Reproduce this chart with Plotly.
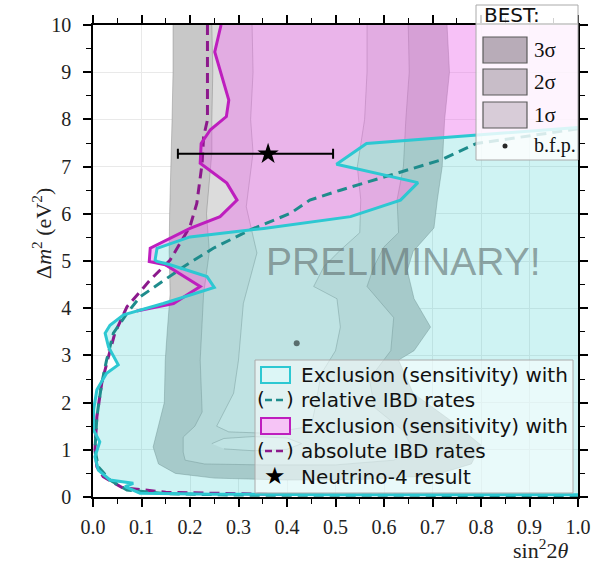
import plotly.graph_objects as go

# ---------------- data ----------------
# Neutrino-4 allowed contours (sin^2 2theta, dm^2)
c3_x = [0.165, 0.165, 0.163, 0.160, 0.158, 0.157, 0.159, 0.153, 0.149, 0.147, 0.135, 0.124, 0.135, 0.170,
        0.25, 0.40, 0.55, 0.70,
        0.78, 0.80, 0.74, 0.66, 0.63, 0.662, 0.696, 0.662, 0.648, 0.66, 0.703, 0.71, 0.72, 0.725, 0.735, 0.73]
c3_y = [10.0, 9.0, 8.0, 7.0, 6.0, 5.2, 4.3, 3.5, 2.9, 2.0, 1.5, 1.06, 0.70, 0.50,
        0.40, 0.36, 0.37, 0.45,
        0.70, 1.10, 1.60, 2.20, 2.90, 3.10, 3.60, 4.20, 4.80, 5.20, 5.70, 6.30, 7.00, 8.00, 9.00, 10.0]

c2_x = [0.245, 0.247, 0.245, 0.245, 0.234, 0.240, 0.228, 0.221, 0.225, 0.210, 0.186, 0.186, 0.190, 0.230,
        0.35, 0.50, 0.62,
        0.66, 0.64, 0.58, 0.57, 0.614, 0.62, 0.565, 0.579, 0.60, 0.63, 0.627, 0.64, 0.645, 0.652, 0.65]
c2_y = [10.0, 9.0, 8.0, 7.3, 6.0, 5.2, 4.3, 2.9, 1.8, 1.5, 1.27, 0.95, 0.78, 0.70,
        0.68, 0.68, 0.78,
        1.00, 1.40, 1.90, 2.50, 3.10, 3.80, 4.46, 4.88, 5.30, 5.60, 6.30, 7.00, 8.00, 9.00, 10.0]

c1_x = [0.328, 0.330, 0.325, 0.330, 0.316, 0.338, 0.310, 0.300, 0.290, 0.255,
        0.28, 0.36, 0.45,
        0.46, 0.47, 0.50, 0.51, 0.503, 0.455, 0.476, 0.51, 0.55, 0.552, 0.545, 0.56, 0.565, 0.565]
c1_y = [10.0, 9.0, 8.0, 7.3, 6.15, 5.17, 4.10, 2.90, 2.20, 1.50,
        1.38, 1.35, 1.50,
        2.00, 2.60, 3.10, 3.60, 4.20, 4.46, 4.88, 5.23, 5.60, 6.30, 7.00, 8.00, 9.00, 10.0]

isl_x = [0.245, 0.27, 0.33, 0.40, 0.43, 0.40, 0.33, 0.27]
isl_y = [1.13, 1.24, 1.28, 1.25, 1.13, 1.01, 0.98, 1.02]

# exclusion boundary, absolute IBD rates (solid magenta)
mag_x = [0.264, 0.251, 0.280, 0.275, 0.242, 0.223, 0.221, 0.276, 0.297, 0.262, 0.200, 0.152, 0.118, 0.116,
         0.149, 0.221, 0.166, 0.090]
mag_y = [10.0, 9.43, 8.41, 8.06, 7.78, 7.49, 7.07, 6.65, 6.29, 5.94, 5.69, 5.44, 5.27, 4.99,
         4.92, 4.46, 4.10, 3.94]

# exclusion boundary, relative IBD rates (solid cyan)
cyan_x = [1.0, 0.793, 0.564, 0.502, 0.670, 0.634, 0.531, 0.352, 0.200, 0.132, 0.128, 0.132, 0.159, 0.235,
          0.250, 0.145, 0.063, 0.035, 0.025, 0.032, 0.052, 0.028, 0.008, 0.001, 0.001, 0.014, 0.004, 0.011,
          0.035, 0.083, 0.066, 0.097, 0.25, 0.5, 1.0]
cyan_y = [7.83, 7.67, 7.49, 7.05, 6.66, 6.29, 5.94, 5.69, 5.51, 5.27, 5.02, 4.99, 4.92, 4.67,
          4.44, 4.10, 3.86, 3.64, 3.47, 3.18, 2.80, 2.62, 2.27, 1.84, 1.42, 1.17, 0.85, 0.57,
          0.36, 0.29, 0.22, 0.08, 0.06, 0.05, 0.05]
CYAN_JOIN = 15  # index of the cyan point where the magenta curve merges

# sensitivity, relative IBD rates (teal dashed)
rel_x = [1.0, 0.791, 0.717, 0.612, 0.510, 0.447, 0.407, 0.324, 0.248, 0.190, 0.140, 0.097, 0.070, 0.042,
         0.028, 0.018, 0.008, 0.004, 0.011, 0.035, 0.070, 0.15, 0.3, 0.6, 1.0]
rel_y = [7.80, 7.49, 7.14, 6.82, 6.50, 6.29, 6.01, 5.66, 5.27, 4.90, 4.55, 4.24, 3.89, 3.47,
         2.90, 2.41, 1.70, 1.00, 0.64, 0.36, 0.15, 0.07, 0.04, 0.03, 0.03]

# sensitivity, absolute IBD rates (purple dashed)
abs_x = [0.236, 0.236, 0.228, 0.225, 0.214, 0.200, 0.159, 0.118, 0.070, 0.045, 0.030, 0.018, 0.008, 0.004,
         0.008, 0.021, 0.06, 0.15, 0.4]
abs_y = [10.0, 7.99, 7.63, 7.07, 6.22, 5.73, 5.02, 4.60, 4.03, 3.47, 2.90, 2.41, 1.70, 1.00,
         0.64, 0.43, 0.20, 0.10, 0.05]

# Neutrino-4 result and best fit point
n4_x, n4_y = [0.361], [7.27]
n4_err_plus, n4_err_minus = [0.134], [0.186]
bfp_x, bfp_y = [0.42], [3.26]

x_ticks = [i / 10 for i in range(11)]
x_tick_labels = ["0.0", "0.1", "0.2", "0.3", "0.4", "0.5", "0.6", "0.7", "0.8", "0.9", "1.0"]
y_ticks = list(range(11))
y_tick_labels = [str(v) for v in y_ticks]

# ---------------- figure ----------------
W, H = 616, 562
L, R, T, B = 93, 38, 25, 65
PW, PH = W - L - R, H - T - B


def px(xp):
    return (xp - L) / PW


def py(yp):
    return (H - B - yp) / PH


SANS = "DejaVu Sans"
SERIF = "Liberation Serif"
MAG = "rgb(190,30,190)"
CYAN = "rgb(45,200,210)"
TEAL = "rgb(30,140,140)"
PURP = "rgb(140,25,140)"
PINK_FILL = "rgba(235,100,235,0.40)"
CYAN_FILL = "rgba(64,208,208,0.25)"
CLINE = dict(color="rgba(120,120,120,0.5)", width=0.8)

fig = go.Figure()

for cx, cy, col in [(c3_x, c3_y, "rgb(200,200,200)"), (c2_x, c2_y, "rgb(220,220,220)"),
                    (c1_x, c1_y, "rgb(234,234,234)"), (isl_x, isl_y, "rgb(234,234,234)")]:
    fig.add_trace(go.Scatter(x=cx, y=cy, mode="lines", fill="toself", fillcolor=col,
                             line=CLINE, hoverinfo="skip", showlegend=False))

# pink excluded region (right of magenta, above cyan)
pink_x = mag_x + cyan_x[CYAN_JOIN::-1] + [1.0]
pink_y = mag_y + cyan_y[CYAN_JOIN::-1] + [10.0]
fig.add_trace(go.Scatter(x=pink_x, y=pink_y, mode="none", fill="toself", fillcolor=PINK_FILL,
                         hoverinfo="skip", showlegend=False))
# cyan excluded region
fig.add_trace(go.Scatter(x=cyan_x, y=cyan_y, mode="none", fill="toself", fillcolor=CYAN_FILL,
                         hoverinfo="skip", showlegend=False))

fig.add_trace(go.Scatter(x=abs_x, y=abs_y, mode="lines",
                         line=dict(color=PURP, width=3, dash="10px,6px"), showlegend=False))
fig.add_trace(go.Scatter(x=rel_x, y=rel_y, mode="lines",
                         line=dict(color=TEAL, width=3, dash="10px,6px"), showlegend=False))
fig.add_trace(go.Scatter(x=mag_x, y=mag_y, mode="lines", line=dict(color=MAG, width=3),
                         showlegend=False))
fig.add_trace(go.Scatter(x=cyan_x, y=cyan_y, mode="lines", line=dict(color=CYAN, width=3),
                         showlegend=False))

fig.add_trace(go.Scatter(x=n4_x, y=n4_y, mode="markers",
                         marker=dict(symbol="star", size=16, color="black"),
                         error_x=dict(type="data", array=n4_err_plus, arrayminus=n4_err_minus,
                                      color="black", thickness=2, width=5),
                         showlegend=False))
fig.add_trace(go.Scatter(x=bfp_x, y=bfp_y, mode="markers",
                         marker=dict(symbol="circle", size=6, color="rgb(90,110,110)"),
                         showlegend=False))

shapes = []
ann = []

ann.append(dict(x=0.641, y=5.0, xref="x", yref="y", text="PRELIMINARY!", showarrow=False,
                font=dict(family="Liberation Sans", size=39, color="rgba(95,110,110,0.62)"),
                xanchor="center", yanchor="middle"))

# ---- BEST legend (top right) ----
shapes.append(dict(type="rect", xref="paper", yref="paper", x0=px(476), x1=px(578), y0=py(160), y1=py(5),
                   fillcolor="rgba(255,255,255,0.82)", line=dict(color="rgba(170,170,170,1)", width=1),
                   layer="above"))
ann.append(dict(x=px(482), y=py(15), xref="paper", yref="paper", text="BEST:", showarrow=False,
                xanchor="left", yanchor="middle", font=dict(family=SANS, size=20, color="#111")))
for (y0, y1, col, lab) in [(37, 63, "rgb(184,172,184)", "3σ"), (69, 95, "rgb(200,189,200)", "2σ"),
                           (102, 128, "rgb(216,204,216)", "1σ")]:
    shapes.append(dict(type="rect", xref="paper", yref="paper", x0=px(483), x1=px(527), y0=py(y1), y1=py(y0),
                       fillcolor=col, line=dict(color="rgb(90,90,90)", width=1.2), layer="above"))
    ann.append(dict(x=px(532), y=py((y0 + y1) / 2), xref="paper", yref="paper", text=lab, showarrow=False,
                    xanchor="left", yanchor="middle", font=dict(family=SERIF, size=21, color="#111")))
shapes.append(dict(type="circle", xref="paper", yref="paper", x0=px(502.5), x1=px(507.5), y0=py(148.5),
                   y1=py(143.5), fillcolor="rgb(40,40,40)", line=dict(width=0), layer="above"))
ann.append(dict(x=px(532), y=py(145), xref="paper", yref="paper", text="b.f.p.", showarrow=False,
                xanchor="left", yanchor="middle", font=dict(family=SERIF, size=20, color="#111")))

# ---- bottom legend ----
shapes.append(dict(type="rect", xref="paper", yref="paper", x0=px(255), x1=px(573), y0=py(493), y1=py(360),
                   fillcolor="rgba(255,255,255,0.55)", line=dict(color="rgba(170,170,170,1)", width=1),
                   layer="above"))
rows = [375, 400, 426, 451, 477]
texts = ["Exclusion (sensitivity) with", "relative IBD rates", "Exclusion (sensitivity) with",
         "absolute IBD rates", "Neutrino-4 result"]
for r, t in zip(rows, texts):
    ann.append(dict(x=px(299), y=py(r), xref="paper", yref="paper", text=t, showarrow=False,
                    xanchor="left", yanchor="middle", font=dict(family=SANS, size=20, color="#111")))
shapes.append(dict(type="rect", xref="paper", yref="paper", x0=px(261), x1=px(290), y0=py(383), y1=py(367),
                   fillcolor="rgba(220,246,246,1)", line=dict(color=CYAN, width=2), layer="above"))
shapes.append(dict(type="rect", xref="paper", yref="paper", x0=px(261), x1=px(290), y0=py(434), y1=py(418),
                   fillcolor="rgba(246,196,246,1)", line=dict(color=MAG, width=2), layer="above"))
for r, col in [(400, TEAL), (451, PURP)]:
    shapes.append(dict(type="line", xref="paper", yref="paper", x0=px(265), x1=px(286), y0=py(r), y1=py(r),
                       line=dict(color=col, width=2.5, dash="7px,4px"), layer="above"))
    ann.append(dict(x=px(261), y=py(r - 1), xref="paper", yref="paper", text="(", showarrow=False,
                    xanchor="center", yanchor="middle", font=dict(family=SANS, size=20, color="#111")))
    ann.append(dict(x=px(290), y=py(r - 1), xref="paper", yref="paper", text=")", showarrow=False,
                    xanchor="center", yanchor="middle", font=dict(family=SANS, size=20, color="#111")))
ann.append(dict(x=px(275), y=py(476), xref="paper", yref="paper", text="★", showarrow=False,
                xanchor="center", yanchor="middle", font=dict(family=SANS, size=24, color="black")))

# axis titles
ann.append(dict(x=px(42), y=py(234), xref="paper", yref="paper",
                text="Δ<i>m</i><sup>2</sup> (eV<sup>2</sup>)", showarrow=False, textangle=-90,
                xanchor="center", yanchor="middle", font=dict(family=SERIF, size=22, color="#222")))
ann.append(dict(x=px(540), y=py(549), xref="paper", yref="paper",
                text="sin<sup>2</sup>2<i>θ</i>", showarrow=False,
                xanchor="center", yanchor="middle", font=dict(family=SERIF, size=22, color="#222")))

axis_common = dict(ticks="outside", ticklen=8, tickwidth=1.5, tickcolor="black", showline=True,
                   linecolor="black", linewidth=1.5, mirror="allticks", showgrid=True, gridcolor="#e9e9e9",
                   gridwidth=1, zeroline=False, tickfont=dict(family=SERIF, size=20, color="#222"),
                   layer="above traces")
fig.update_layout(
    width=W, height=H, margin=dict(l=L, r=R, t=T, b=B),
    paper_bgcolor="white", plot_bgcolor="white", showlegend=False,
    xaxis=dict(range=[0, 1], tickvals=x_ticks, ticktext=x_tick_labels,
               minor=dict(dtick=0.05, tick0=0, ticklen=5, tickwidth=1.2, tickcolor="black", ticks="outside",
                          showgrid=False),
               ticklabelstandoff=3, **axis_common),
    yaxis=dict(range=[0, 10], tickvals=y_ticks, ticktext=y_tick_labels,
               minor=dict(dtick=0.5, tick0=0, ticklen=5, tickwidth=1.2, tickcolor="black", ticks="outside",
                          showgrid=False),
               ticklabelstandoff=8, **axis_common),
    shapes=shapes, annotations=ann,
)

fig.write_html("out.html")
